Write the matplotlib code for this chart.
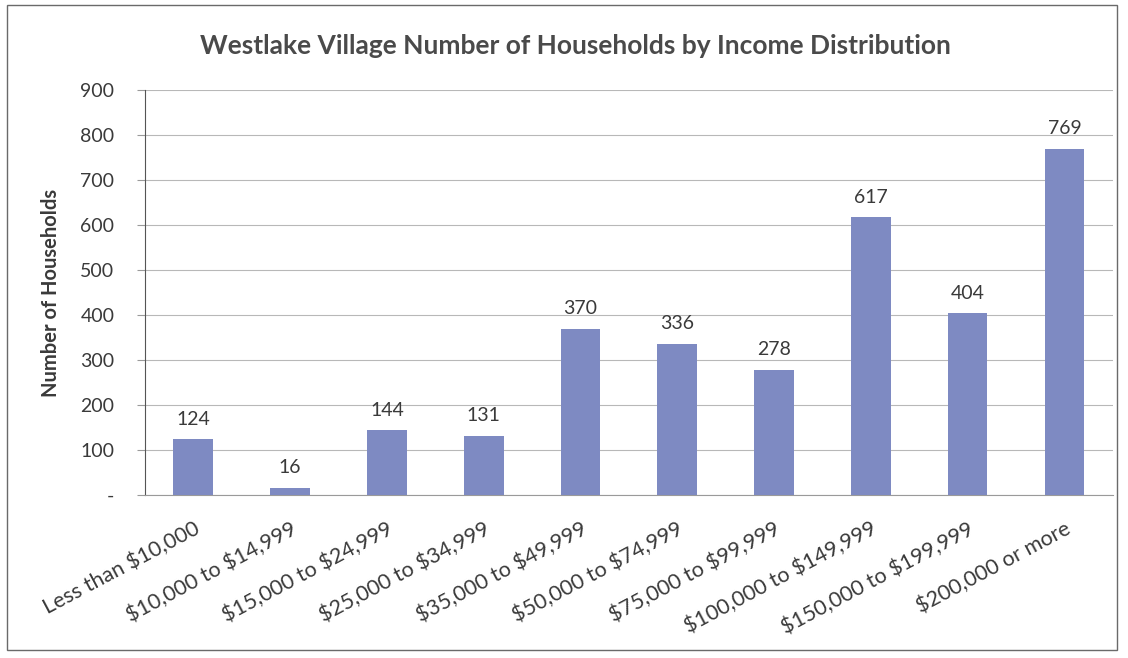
import matplotlib
matplotlib.use("Agg")
import matplotlib.pyplot as plt
from matplotlib.patches import Rectangle

plt.rcParams['font.family'] = ['Lato', 'DejaVu Sans']

categories = [
    "Less than \\$10,000", "\\$10,000 to \\$14,999", "\\$15,000 to \\$24,999",
    "\\$25,000 to \\$34,999", "\\$35,000 to \\$49,999", "\\$50,000 to \\$74,999",
    "\\$75,000 to \\$99,999", "\\$100,000 to \\$149,999", "\\$150,000 to \\$199,999",
    "\\$200,000 or more",
]
households = [124, 16, 144, 131, 370, 336, 278, 617, 404, 769]
y_ticks = [0, 100, 200, 300, 400, 500, 600, 700, 800, 900]
y_tick_labels = ["-", "100", "200", "300", "400", "500", "600", "700", "800", "900"]

bar_color = "#7e8ac2"
text_color = "#3a3a3a"

fig = plt.figure(figsize=(11.28, 6.58), dpi=100)
ax = fig.add_axes([0.1285, 0.2477, 0.858, 0.6155])

x = range(len(categories))
ax.bar(x, households, width=0.41, color=bar_color, zorder=3)
for xi, v in zip(x, households):
    ax.text(xi, v + 26, str(v), ha="center", va="bottom", fontsize=14, color=text_color)

ax.set_xlim(-0.5, len(categories) - 0.5)
ax.set_ylim(0, 900)
ax.set_yticks(y_ticks)
ax.set_yticklabels(y_tick_labels, fontsize=14, color=text_color)
ax.set_xticks(list(x))
ax.set_xticklabels(categories, rotation=28, ha="right", rotation_mode="anchor",
                   fontsize=15.5, color=text_color)
ax.tick_params(axis="x", length=0, pad=17)
ax.tick_params(axis="y", length=6, color="#9a9a9a", pad=16)

ax.grid(axis="y", color="#b8b8b8", linewidth=0.8, zorder=0)
for side in ("top", "right"):
    ax.spines[side].set_visible(False)
ax.spines["left"].set_color("#555555")
ax.spines["bottom"].set_color("#9a9a9a")

ax.set_ylabel("Number of Households", fontsize=14.5, fontweight="bold",
              color=text_color, labelpad=14)
fig.text(0.51, 0.93, "Westlake Village Number of Households by Income Distribution",
         ha="center", va="center", fontsize=19, fontweight="bold", color="#4a4a4a")

# outer chart border
fig.patches.append(Rectangle((0.006, 0.012), 0.984, 0.98, transform=fig.transFigure,
                             fill=False, edgecolor="#6a6a6a", linewidth=1.0))

fig.savefig("out.png", dpi=100)
